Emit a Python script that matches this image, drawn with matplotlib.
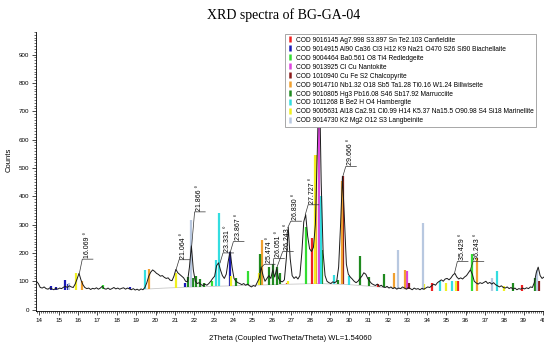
import matplotlib
matplotlib.use('Agg')
import matplotlib.pyplot as plt
import numpy as np
from matplotlib.lines import Line2D
from matplotlib.ticker import MultipleLocator

matplotlib.rcParams['font.family'] = 'Liberation Sans'

# measured pattern (2theta, counts)
two_theta = [13.85, 13.95, 14.05, 14.15, 14.25, 14.35, 14.45, 14.55, 14.65, 14.75,
             14.85, 14.95, 15.05, 15.15, 15.25, 15.35, 15.45, 15.55, 15.65, 15.75,
             15.85, 15.95, 16.05, 16.15, 16.25, 16.35, 16.45, 16.55, 16.65, 16.75,
             16.85, 16.95, 17.05, 17.15, 17.25, 17.35, 17.45, 17.55, 17.65, 17.75,
             17.85, 17.95, 18.05, 18.15, 18.25, 18.35, 18.45, 18.55, 18.65, 18.75,
             18.85, 18.95, 19.05, 19.15, 19.25, 19.35, 19.45, 19.55, 19.65, 19.75,
             19.85, 19.95, 20.05, 20.15, 20.25, 20.35, 20.45, 20.55, 20.65, 20.75,
             20.85, 20.95, 21.05, 21.15, 21.25, 21.35, 21.45, 21.55, 21.65, 21.75,
             21.85, 21.95, 22.05, 22.15, 22.25, 22.35, 22.45, 22.55, 22.65, 22.75,
             22.85, 22.95, 23.05, 23.15, 23.25, 23.35, 23.45, 23.55, 23.65, 23.75,
             23.85, 23.95, 24.05, 24.15, 24.25, 24.35, 24.45, 24.55, 24.65, 24.75,
             24.85, 24.95, 25.05, 25.15, 25.25, 25.35, 25.45, 25.55, 25.65, 25.75,
             25.85, 25.95, 26.05, 26.15, 26.25, 26.35, 26.45, 26.55, 26.65, 26.75,
             26.85, 26.95, 27.05, 27.15, 27.25, 27.35, 27.45, 27.55, 27.65, 27.75,
             27.85, 27.95, 28.05, 28.15, 28.25, 28.35, 28.45, 28.55, 28.65, 28.75,
             28.85, 28.95, 29.05, 29.15, 29.25, 29.35, 29.45, 29.55, 29.65, 29.75,
             29.85, 29.95, 30.05, 30.15, 30.25, 30.35, 30.45, 30.55, 30.65, 30.75,
             30.85, 30.95, 31.05, 31.15, 31.25, 31.35, 31.45, 31.55, 31.65, 31.75,
             31.85, 31.95, 32.05, 32.15, 32.25, 32.35, 32.45, 32.55, 32.65, 32.75,
             32.85, 32.95, 33.05, 33.15, 33.25, 33.35, 33.45, 33.55, 33.65, 33.75,
             33.85, 33.95, 34.05, 34.15, 34.25, 34.35, 34.45, 34.55, 34.65, 34.75,
             34.85, 34.95, 35.05, 35.15, 35.25, 35.35, 35.45, 35.55, 35.65, 35.75,
             35.85, 35.95, 36.05, 36.15, 36.25, 36.35, 36.45, 36.55, 36.65, 36.75,
             36.85, 36.95, 37.05, 37.15, 37.25, 37.35, 37.45, 37.55, 37.65, 37.75,
             37.85, 37.95, 38.05, 38.15, 38.25, 38.35, 38.45, 38.55, 38.65, 38.75,
             38.85, 38.95, 39.05, 39.15, 39.25, 39.35, 39.45, 39.55, 39.65, 39.75,
             39.85, 39.95, 40.05]
counts = [100, 92, 78, 76, 80, 74, 72, 77, 73, 70,
          75, 72, 76, 74, 79, 82, 78, 84, 80, 78,
          90, 108, 128, 105, 88, 78, 74, 76, 71, 75,
          73, 77, 72, 76, 82, 74, 72, 76, 71, 74,
          78, 73, 76, 72, 75, 77, 72, 76, 73, 70,
          74, 69, 72, 68, 73, 70, 78, 95, 118, 132,
          140, 135, 128, 124, 118, 120, 114, 110, 112, 104,
          102, 118, 142, 130, 124, 118, 112, 100, 98, 150,
          225, 140, 100, 92, 95, 88, 85, 90, 86, 92,
          100, 110, 118, 155, 165, 140, 120, 110, 125, 170,
          205, 150, 110, 100, 95, 92, 88, 92, 86, 90,
          84, 80, 85, 82, 96, 110, 150, 120, 100, 110,
          120, 110, 140, 115, 145, 110, 100, 98, 105, 180,
          290, 180, 120, 110, 116, 108, 120, 200, 310, 335,
          260, 215, 205, 220, 300, 560, 850, 450, 200, 120,
          100, 95, 92, 98, 95, 100, 150, 300, 470, 320,
          160, 125, 115, 108, 100, 95, 100, 110, 118, 130,
          125, 110, 100, 92, 88, 85, 90, 82, 86, 80,
          78, 82, 76, 80, 74, 78, 72, 76, 74, 80,
          76, 72, 78, 74, 70, 76, 72, 74, 70, 75,
          72, 76, 80, 78, 84, 90, 86, 95, 100, 105,
          100, 108, 110, 105, 112, 122, 128, 115, 108, 112,
          108, 115, 120, 130, 140, 125, 100, 94, 90, 95,
          92, 96, 100, 92, 96, 90, 95, 88, 84, 80,
          84, 78, 76, 80, 74, 78, 72, 76, 70, 74,
          72, 76, 73, 77, 74, 80, 78, 95, 130, 150,
          120, 110, 115]

# fitted background under the pattern
bg_x = [13.8, 19.4, 20.5, 22.0, 24.0, 26.0, 28.4, 30.0, 31.5, 33.0, 34.5, 40.5]
bg_y = [70, 72, 76, 80, 84, 88, 92, 88, 80, 72, 66, 66]

# reference phases: stick positions and heights
phase_names = [
    'COD 9016145 Ag7.998 S3.897 Sn Te2.103 Canfieldite',
    'COD 9014915 Al90 Ca36 Cl3 H12 K9 Na21 O470 S26 Si90 Biachellaite',
    'COD 9004464 Ba0.561 O8 Ti4 Redledgeite',
    'COD 9013925 Cl Cu Nantokite',
    'COD 1010940 Cu Fe S2 Chalcopyrite',
    'COD 9014710 Nb1.32 O18 Sb5 Ta1.28 Ti0.16 W1.24 Billwiseite',
    'COD 9010805 Hg3 Pb16.08 S46 Sb17.92 Marrucciite',
    'COD 1011268 B Be2 H O4 Hambergite',
    'COD 9005631 Al18 Ca2.91 Cl0.99 H14 K5.37 Na15.5 O90.98 S4 Si18 Marinellite',
    'COD 9014730 K2 Mg2 O12 S3 Langbeinite',
]
phase_colors = ['#ee2222', '#1a1ab8', '#33dd33', '#dd44dd', '#8b1a1a',
                '#f0a030', '#1f8a1f', '#33dde0', '#f0f020', '#b8c8e0']

canfieldite_x = [26.80, 28.07, 31.50, 34.26, 35.62, 38.90]
canfieldite_h = [95, 253, 90, 95, 102, 88]
biachellaite_x = [14.60, 14.85, 15.35, 15.50, 18.70, 21.50, 23.82, 27.00]
biachellaite_h = [82, 80, 106, 92, 80, 95, 205, 90]
redledgeite_x = [17.28, 22.90, 24.76, 27.76, 36.34]
redledgeite_h = [88, 100, 135, 293, 195]
nantokite_x = [28.46, 32.97]
nantokite_h = [880, 135]
chalcopyrite_x = [29.67, 33.10, 39.80]
chalcopyrite_h = [470, 95, 100]
billwiseite_x = [16.23, 19.68, 25.50, 28.30, 29.62, 32.30, 32.90, 36.60]
billwiseite_h = [100, 145, 246, 546, 455, 130, 141, 183]
marrucciite_x = [21.70, 21.95, 22.10, 22.30, 22.50, 24.16, 25.38, 25.85, 26.05,
                 26.25, 26.40, 28.60, 29.40, 30.54, 31.00, 31.79, 38.43, 39.60]
marrucciite_h = [115, 110, 118, 108, 95, 110, 195, 150, 160,
                 150, 130, 210, 105, 188, 115, 127, 95, 110]
hambergite_x = [19.45, 23.13, 23.26, 28.53, 29.22, 30.00, 34.70, 35.30, 37.62]
hambergite_h = [140, 175, 340, 400, 123, 120, 100, 100, 135]
marinellite_x = [15.92, 21.07, 23.90, 25.36, 26.85, 28.25, 33.85, 34.97, 35.50, 38.00]
marinellite_h = [128, 130, 120, 130, 100, 546, 92, 95, 100, 85]
langbeinite_x = [15.55, 21.84, 32.53, 33.80, 37.35, 39.67]
langbeinite_h = [95, 317, 211, 307, 112, 140]

sticks_x = [canfieldite_x, biachellaite_x, redledgeite_x, nantokite_x, chalcopyrite_x,
            billwiseite_x, marrucciite_x, hambergite_x, marinellite_x, langbeinite_x]
sticks_h = [canfieldite_h, biachellaite_h, redledgeite_h, nantokite_h, chalcopyrite_h,
            billwiseite_h, marrucciite_h, hambergite_h, marinellite_h, langbeinite_h]

# peak labels: position, curve height, bar height
peak_pos = [16.069, 21.064, 21.866, 23.331, 23.867, 25.474, 26.051, 26.243,
            26.830, 27.727, 29.666, 35.429, 36.243]
peak_y = [128, 142, 225, 165, 205, 150, 140, 145, 290, 335, 470, 128, 140]
bar_y = [178, 176, 345, 200, 240, 160, 180, 205, 312, 370, 505, 170, 170]
# sideways step of each leader line
lead_dx = [0.15, 0.15, 0.15, 0.15, 0.15, 0.15, 0.05, 0.32,
           0.15, 0.15, 0.15, 0.15, 0.15]

fig = plt.figure(figsize=(5.44, 3.45), dpi=100)
ax = fig.add_axes([36 / 544, 1 - 311 / 345, 1 - 36 / 544, (311 - 32) / 345])

# background line and phase sticks drawn from it
ax.plot(bg_x[1:-2], bg_y[1:-2], color='#c8c8c8', lw=0.6, zorder=1)
for xs, hs, c in zip(sticks_x, sticks_h, phase_colors):
    base = np.interp(xs, bg_x, bg_y)
    ax.vlines(xs, base, hs, colors=c, lw=1.6, zorder=2)

ax.plot(two_theta, counts, color='#1a1a1a', lw=0.7, zorder=3)

# peak annotations with leader lines
for p, py, by, dx in zip(peak_pos, peak_y, bar_y, lead_dx):
    x0 = p + dx
    ax.plot([p, x0, x0 + 0.55], [py, by, by], color='#333333', lw=0.5, zorder=4)
    ax.text(x0 + 0.25, by + 4, '%.3f °' % p, rotation=90, ha='center', va='bottom',
            fontsize=5, zorder=4)

handles = [Line2D([], [], color=c, marker='|', ls='none', markersize=5, mew=1.8)
           for c in phase_colors]
leg = ax.legend(handles, phase_names, loc='upper left',
                bbox_to_anchor=(285 / 544, 1 - 34 / 345), bbox_transform=fig.transFigure,
                fontsize=4.75, frameon=True, fancybox=False, edgecolor='#999999',
                framealpha=1, labelspacing=0.3, handlelength=0.6, handletextpad=0.6,
                borderpad=0.4, borderaxespad=0)
leg.set_zorder(10)
leg.get_frame().set_linewidth(0.6)

ax.set_xlim(13.83, 40.05)
ax.set_ylim(-5, 980)
ax.xaxis.set_major_locator(MultipleLocator(1))
ax.xaxis.set_minor_locator(MultipleLocator(0.1))
ax.yaxis.set_major_locator(MultipleLocator(100))
ax.yaxis.set_minor_locator(MultipleLocator(10))
ax.tick_params(which='major', labelsize=4.5, length=3, width=0.5, pad=2)
ax.tick_params(which='minor', length=1.5, width=0.4)
for s in ['top', 'right']:
    ax.spines[s].set_visible(False)
for s in ['left', 'bottom']:
    ax.spines[s].set_linewidth(0.6)

ax.set_xlabel('2Theta (Coupled TwoTheta/Theta) WL=1.54060', fontsize=5.5, labelpad=9)
fig.text(9 / 544, 1 - 160 / 345, 'Counts', rotation=90, ha='center', va='center', fontsize=5.5)
fig.text(284 / 544, 1 - 15 / 345, 'XRD spectra of BG-GA-04', ha='center', va='center',
         fontsize=10, family='Liberation Serif')

fig.savefig('out.png', dpi=100)
